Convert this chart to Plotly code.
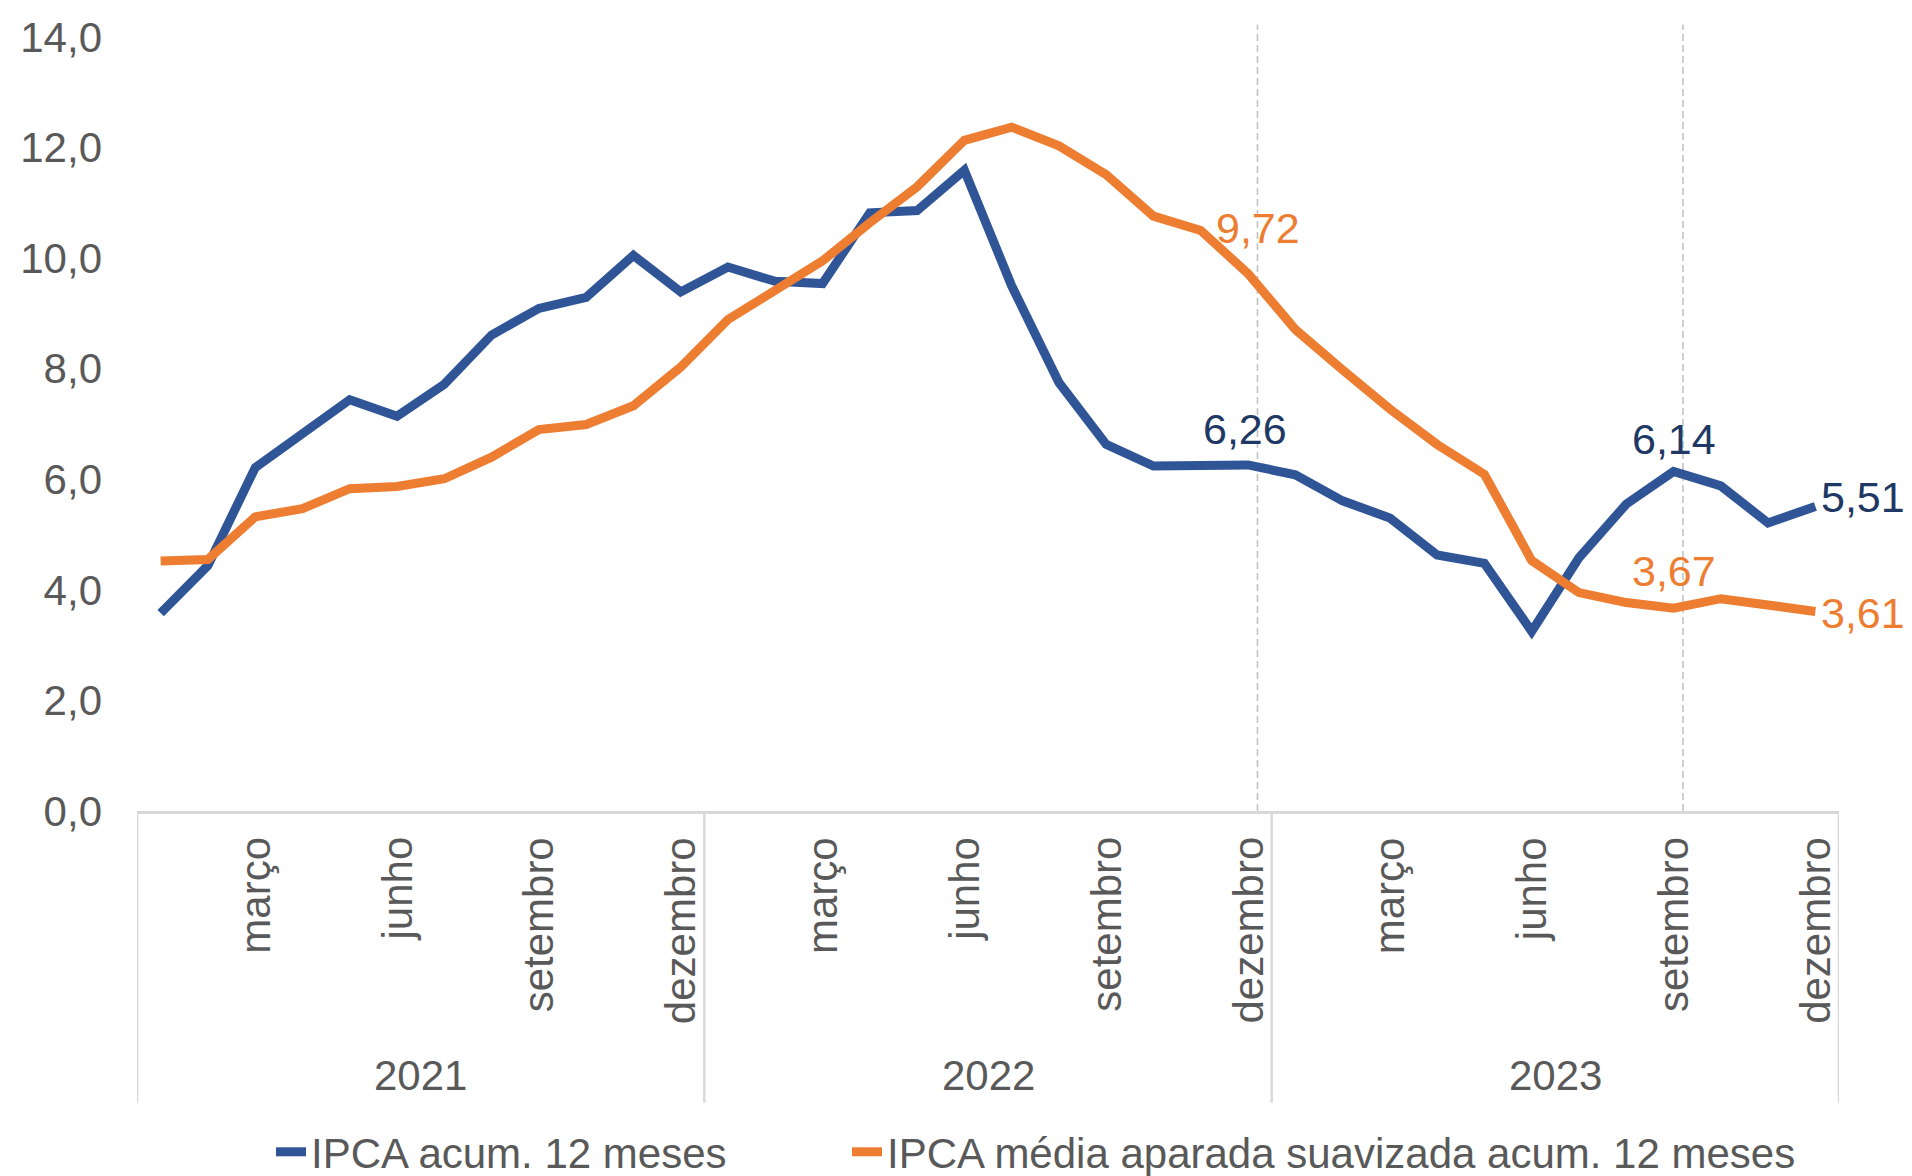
import plotly.graph_objects as go

# ---------------- data ----------------
years = ["2021", "2022", "2023"]
months = ["janeiro", "fevereiro", "março", "abril", "maio", "junho",
          "julho", "agosto", "setembro", "outubro", "novembro", "dezembro"]
shown_months = ["março", "junho", "setembro", "dezembro"]

ipca_12m = [3.58, 4.44, 6.21, 6.85, 7.44, 7.14, 7.72, 8.61, 9.09, 9.29, 10.05, 9.39,
            9.84, 9.58, 9.54, 10.82, 10.86, 11.59, 9.50, 7.75, 6.63, 6.24, 6.24, 6.26,
            6.08, 5.61, 5.30, 4.63, 4.48, 3.25, 4.58, 5.55, 6.14, 5.88, 5.21, 5.51]
media_aparada = [4.52, 4.55, 5.32, 5.47, 5.83, 5.87, 6.01, 6.40, 6.90, 6.99, 7.33, 8.03,
                 8.89, 9.44, 9.95, 10.64, 11.29, 12.13, 12.37, 12.03, 11.51, 10.76, 10.50, 9.72,
                 8.71, 7.98, 7.27, 6.63, 6.09, 4.53, 3.95, 3.77, 3.67, 3.84, 3.74, 3.61]

series_names = ["IPCA acum. 12 meses", "IPCA média aparada suavizada acum. 12 meses"]
yticks = [0, 2, 4, 6, 8, 10, 12, 14]
marked_points = [("dezembro", "2022"), ("setembro", "2023")]

# ---------------- style ----------------
BLUE = "#2F5597"
BLUE_LBL = "#203864"
ORANGE = "#ED7D31"
GRAY = "#595959"
AXIS = "#D9D9D9"
FONT = "Liberation Sans, Arial, sans-serif"
FS = 42
FS_LBL = 43

W, H = 1912, 1176
# page body has an 8px margin: compensate so the plot area sits at 137..1839 x 37..811
L, R, T, B = 129, 81, 29, 373
PW = W - L - R
PH = H - T - B

n = len(ipca_12m)
x = list(range(n))
hover = [f"{months[i % 12]} {years[i // 12]}" for i in range(n)]

fig = go.Figure()
fig.add_trace(go.Scatter(x=x, y=ipca_12m, mode="lines", name=series_names[0],
                         legend="legend",
                         line=dict(color=BLUE, width=9), text=hover,
                         hovertemplate="%{text}: %{y:.2f}<extra></extra>"))
fig.add_trace(go.Scatter(x=x, y=media_aparada, mode="lines", name=series_names[1],
                         legend="legend2",
                         line=dict(color=ORANGE, width=9), text=hover,
                         hovertemplate="%{text}: %{y:.2f}<extra></extra>"))

shapes = []
annotations = []

# dashed vertical reference lines
for m, yv in marked_points:
    idx = years.index(yv) * 12 + months.index(m)
    shapes.append(dict(type="line", xref="x", yref="paper", x0=idx + 0.2, x1=idx + 0.2,
                       y0=0, y1=1.016, line=dict(color="#BFBFBF", width=1.5, dash="7px,4px"),
                       layer="below"))

# year separators below axis
for k in range(len(years) + 1):
    xb = k * 12 - 0.5
    shapes.append(dict(type="line", xref="x", yref="paper", x0=xb, x1=xb,
                       y0=0, y1=-0.377, line=dict(color=AXIS, width=2.5)))

# month labels
for i in range(n):
    mname = months[i % 12]
    if mname in shown_months:
        annotations.append(dict(x=i, y=-0.031, xref="x", yref="paper", text=mname,
                                textangle=-90, xanchor="center", yanchor="top",
                                showarrow=False, font=dict(family=FONT, size=FS, color=GRAY)))
# year labels
for k, yr in enumerate(years):
    annotations.append(dict(x=k * 12 + 5.5, y=-0.342, xref="x", yref="paper", text=yr,
                            xanchor="center", yanchor="middle", showarrow=False,
                            font=dict(family=FONT, size=FS, color=GRAY)))


def fmt(v):
    return f"{v:.2f}".replace(".", ",")


i_dez22 = years.index("2022") * 12 + months.index("dezembro")
i_set23 = years.index("2023") * 12 + months.index("setembro")
i_last = n - 1

data_labels = [
    (i_dez22, ipca_12m, BLUE_LBL, "center", -3, 36),
    (i_dez22, media_aparada, ORANGE, "center", 10, 46),
    (i_set23, ipca_12m, BLUE_LBL, "center", 0, 33),
    (i_set23, media_aparada, ORANGE, "center", 0, 37),
    (i_last, ipca_12m, BLUE_LBL, "left", 4, 9),
    (i_last, media_aparada, ORANGE, "left", 4, -2),
]
for idx, arr, col, xa, xs, ys in data_labels:
    annotations.append(dict(x=idx, y=arr[idx], xref="x", yref="y", text=fmt(arr[idx]),
                            xanchor=xa, yanchor="middle", xshift=xs, yshift=ys,
                            showarrow=False, font=dict(family=FONT, size=FS_LBL, color=col)))


def paper_x(page_px):
    return (page_px - 8 - L) / PW


def paper_y(page_py):
    return (H - B + 8 - page_py) / PH


LEG_Y = paper_y(1152)
leg_common = dict(orientation="h", xanchor="left", yanchor="middle", y=LEG_Y,
                  font=dict(family=FONT, size=FS, color=GRAY),
                  bgcolor="rgba(0,0,0,0)", borderwidth=0)

fig.update_layout(
    width=W, height=H,
    margin=dict(l=L, r=R, t=T, b=B, pad=0, autoexpand=False),
    paper_bgcolor="white", plot_bgcolor="white",
    separators=",.",
    font=dict(family=FONT, size=FS, color=GRAY),
    showlegend=True,
    legend=dict(x=paper_x(271), **leg_common),
    legend2=dict(x=paper_x(847), **leg_common),
    xaxis=dict(range=[-0.5, n - 0.5], showgrid=False, zeroline=False,
               showticklabels=False, ticks="", showline=True, linecolor=AXIS,
               linewidth=2.5, fixedrange=True),
    yaxis=dict(range=[0, 14], tickvals=yticks, tickformat=".1f", showgrid=False,
               zeroline=False, showline=False, ticks="", ticklabelstandoff=34,
               tickfont=dict(family=FONT, size=FS, color=GRAY), fixedrange=True),
    shapes=shapes,
    annotations=annotations,
)

fig.write_html("out.html")
